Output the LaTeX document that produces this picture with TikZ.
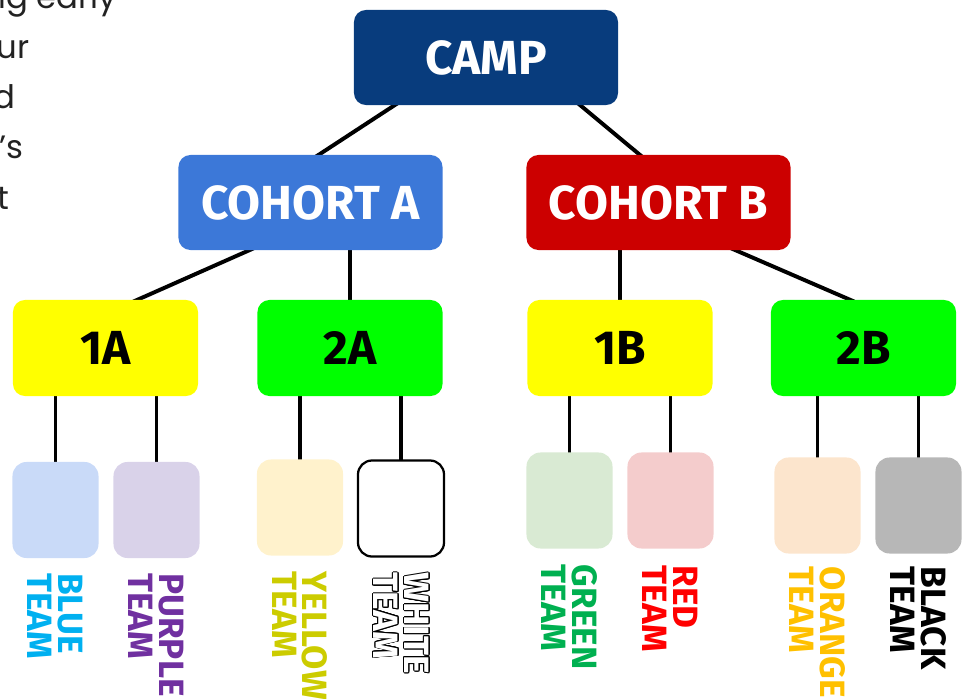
\documentclass[tikz,border=0pt]{standalone}
\usepackage{fontspec}
\setmainfont{Fira Sans}
\newfontfamily\bodyfont{Poppins}
\usepackage{contour}
\contourlength{0.6pt}
\usetikzlibrary{calc,backgrounds}
\definecolor{campnavy}{RGB}{8,60,125}
\definecolor{cohablue}{RGB}{60,120,216}
\definecolor{cohbred}{RGB}{204,0,0}
\definecolor{grpyellow}{RGB}{255,255,0}
\definecolor{grpgreen}{RGB}{0,255,0}
\definecolor{fillblue}{RGB}{201,218,248}
\definecolor{fillpurple}{RGB}{217,210,233}
\definecolor{fillyellow}{RGB}{255,242,204}
\definecolor{fillgreen}{RGB}{217,234,211}
\definecolor{fillred}{RGB}{244,204,204}
\definecolor{fillorange}{RGB}{252,229,205}
\definecolor{fillgray}{RGB}{183,183,183}
\definecolor{txtblue}{RGB}{0,176,240}
\definecolor{txtpurple}{RGB}{112,48,160}
\definecolor{txtyellow}{RGB}{204,204,0}
\definecolor{txtgreen}{RGB}{0,176,80}
\definecolor{txtred}{RGB}{255,0,0}
\definecolor{txtorange}{RGB}{255,192,0}
\definecolor{bodygray}{RGB}{34,34,34}
\tikzset{
    box/.style = {rectangle, rounded corners=0.3cm,
        inner sep=0pt, outer sep=0pt,
        font=\fontsize{34}{40}\selectfont\bfseries},
    cohort/.style = {box, minimum width=6.6cm, minimum height=2.375cm, text=white},
    group/.style = {box, minimum width=4.625cm, minimum height=2.4cm},
    team/.style = {rectangle, rounded corners=0.35cm,
        minimum width=2.15cm, minimum height=2.4cm,
        inner sep=0pt, outer sep=0pt},
    teamlabel/.style = {rotate=-90, anchor=west, inner sep=0pt, align=left,
        font=\fontsize{25}{22}\selectfont\bfseries},
    bodytext/.style = {anchor=base east, inner sep=0pt, text=bodygray,
        font=\bodyfont\fontsize{23}{28}\selectfont},
    link/.style = {draw, line width=2.8pt, shorten <=-3pt, shorten >=-3pt}
}
\begin{document}
\begin{tikzpicture}[x=0.025cm, y=-0.025cm]
\useasboundingbox (0,0) rectangle (967,698);
\clip (0,0) rectangle (967,698);
% paragraph cut off at the left
\node[bodytext] (lineA) at (117,8) {ng early};
\node[bodytext] (lineB) at (30,58) {ur};
\node[bodytext] (lineC) at (16,108) {d};
\node[bodytext] (lineD) at (24,158) {’s};
\node[bodytext] (lineE) at (10,209) {t};
% tree
\node[cohort, fill=campnavy] (camp) at (486,57.5) {CAMP};
\node[cohort, fill=cohablue] (cohA) at (310.5,202.5) {COHORT A};
\node[cohort, fill=cohbred] (cohB) at (658.5,202.5) {COHORT B};
\node[group, fill=grpyellow] (oneA) at (105.5,348) {1A};
\node[group, fill=grpgreen] (twoA) at (350,348) {2A};
\node[group, fill=grpyellow] (oneB) at (620,348) {1B};
\node[group, fill=grpgreen] (twoB) at (863.5,348) {2B};
\node[team, fill=fillblue] (tBlue) at (55.5,510) {};
\node[team, fill=fillpurple] (tPurple) at (156.5,510) {};
\node[team, fill=fillyellow] (tYellow) at (300,507.5) {};
\node[team, draw, line width=1.6pt, fill=white] (tWhite) at (401,508.5) {};
\node[team, fill=fillgreen] (tGreen) at (569.5,500.5) {};
\node[team, fill=fillred] (tRed) at (670.5,500.5) {};
\node[team, fill=fillorange] (tOrange) at (817.5,505.5) {};
\node[team, fill=fillgray] (tBlack) at (918.5,505.5) {};
% team names
\node[teamlabel, text=txtblue] (lBlue) at ($(tBlue.south)+(0,15)$) {BLUE\\TEAM};
\node[teamlabel, text=txtpurple] (lPurple) at ($(tPurple.south)+(0,15)$) {PURPLE\\TEAM};
\node[teamlabel, text=txtyellow] (lYellow) at ($(tYellow.south)+(0,16)$) {YELLOW\\TEAM};
\node[teamlabel, text=white] (lWhite) at ($(tWhite.south)+(0,16)$) {\contour{black}{WHITE}\\\contour{black}{TEAM}};
\node[teamlabel, text=txtgreen] (lGreen) at ($(tGreen.south)+(0,16)$) {GREEN\\TEAM};
\node[teamlabel, text=txtred] (lRed) at ($(tRed.south)+(0,17)$) {RED\\TEAM};
\node[teamlabel, text=txtorange] (lOrange) at ($(tOrange.south)+(0,13)$) {ORANGE\\TEAM};
\node[teamlabel, text=black] (lBlack) at ($(tBlack.south)+(0,13)$) {BLACK\\TEAM};
% connectors
\begin{scope}[on background layer]
\draw[link] ($(camp.south west)!0.155!(camp.south east)$) -- ($(cohA.north west)!0.53!(cohA.north east)$);
\draw[link] ($(camp.south west)!0.856!(camp.south east)$) -- ($(cohB.north west)!0.43!(cohB.north east)$);
\draw[link] ($(cohA.south west)!0.27!(cohA.south east)$) -- ($(oneA.north west)!0.67!(oneA.north east)$);
\draw[link] (cohA.south -| twoA.north) -- (twoA.north);
\draw[link] (cohB.south -| oneB.north) -- (oneB.north);
\draw[link] ($(cohB.south west)!0.79!(cohB.south east)$) -- ($(twoB.north west)!0.43!(twoB.north east)$);
\foreach \up/\down in {oneA/tBlue, oneA/tPurple, twoA/tYellow, twoA/tWhite,
    oneB/tGreen, oneB/tRed, twoB/tOrange, twoB/tBlack}
    \draw[link] (\up.south -| \down.north) -- (\down.north);
\end{scope}
\end{tikzpicture}
\end{document}
